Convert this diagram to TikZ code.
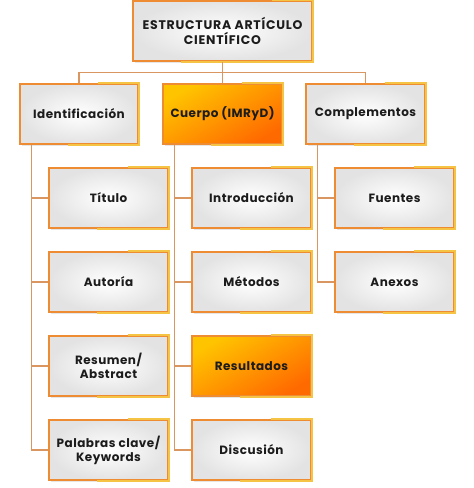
\documentclass[tikz,border=0pt]{standalone}
\usepackage{fontspec}
\setmainfont{Poppins}[BoldFont={* Bold}]
\usetikzlibrary{shadows}
\definecolor{bordA}{HTML}{EE8C33}
\definecolor{bordB}{HTML}{F6C445}
\definecolor{linec}{HTML}{DA9660}
\definecolor{txt}{HTML}{1C1C1C}
\definecolor{oraA}{HTML}{FFC400}
\definecolor{oraB}{HTML}{FF6A00}
\tikzset{
  x=1pt, y=-1pt,
  box/.style={rectangle, draw=bordA, line width=1.6pt, minimum width=119pt, minimum height=60pt,
    inner color=white, outer color=black!11, align=center, text=txt,
    font=\bfseries\fontsize{12}{14}\selectfont\addfontfeatures{LetterSpace=4},
    drop shadow={opacity=0.2, shadow xshift=1.5pt, shadow yshift=-2pt}},
  hot/.style={box, shading=axis, top color=oraA, bottom color=oraB, shading angle=30},
  conn/.style={draw=linec, line width=1.3pt},
  edge2/.style={draw=bordB, line width=1.6pt},
}
\begin{document}
\begin{tikzpicture}
\useasboundingbox (0,0) rectangle (474,488);
\node[box, minimum width=179pt, font=\bfseries\fontsize{12.5}{14.5}\selectfont\addfontfeatures{LetterSpace=6}] (top) at (222.5,31) {ESTRUCTURA ARTÍCULO\\CIENTÍFICO};
\node[box, minimum width=118pt] (ident) at (79,114) {Identificación};
\node[hot] (cuerpo) at (222.5,114) {Cuerpo (IMRyD)};
\node[box] (comp) at (365.5,114) {Complementos};
\node[box] (titulo) at (108.5,198) {Título};
\node[box] (autoria) at (108.5,282) {Autoría};
\node[box] (resumen) at (108.5,366) {Resumen/\\Abstract};
\node[box] (palabras) at (108.5,450) {Palabras clave/\\Keywords};
\node[box] (intro) at (251.5,198) {Introducción};
\node[box] (metodos) at (251.5,282) {Métodos};
\node[hot] (result) at (251.5,366) {Resultados};
\node[box] (discu) at (251.5,450) {Discusión};
\node[box] (fuentes) at (394.5,198) {Fuentes};
\node[box] (anexos) at (394.5,282) {Anexos};
\foreach \n in {top,ident,cuerpo,comp,titulo,autoria,resumen,palabras,intro,metodos,result,discu,fuentes,anexos}
  \draw[edge2, line cap=rect] ([xshift=50pt]\n.south west) -- (\n.south east) -- (\n.north east) -- ([xshift=-40pt]\n.north east);
\draw[conn] (top.south) -- (cuerpo.north);
\draw[conn] (ident.north) -- ++(0,-11) -| (comp.north);
\foreach \p/\c in {ident/titulo, ident/autoria, ident/resumen, ident/palabras,
                   cuerpo/intro, cuerpo/metodos, cuerpo/result, cuerpo/discu,
                   comp/fuentes, comp/anexos}
  \draw[conn] ([xshift=12pt]\p.south west) |- (\c.west);
\end{tikzpicture}
\end{document}
